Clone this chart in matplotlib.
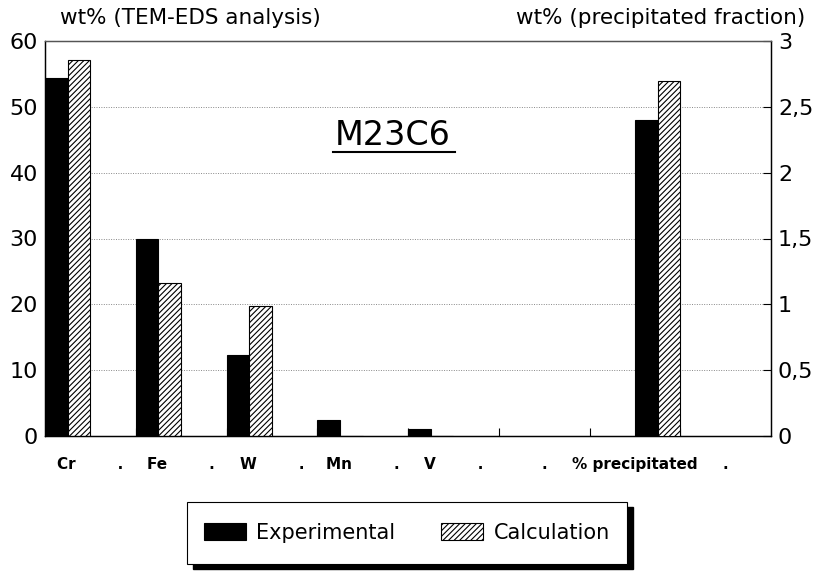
import matplotlib.pyplot as plt
from matplotlib.patches import Rectangle

plt.rcParams['font.family'] = ['DejaVu Sans']
plt.rcParams['hatch.linewidth'] = 0.8

# data
labels = ["Cr        .", "Fe        .", "W        .", "Mn        .", "V        .",
          ".", "% precipitated", "."]
elements = [0, 1, 2, 3, 4]           # category index of each element
exp_wt = [54.4, 29.9, 12.3, 2.4, 1.0]
calc_wt = [57.1, 23.2, 19.75, 0, 0]
prec_cat = [6]
prec_exp = [2.40]
prec_calc = [2.70]

fig = plt.figure(figsize=(8.16, 5.72), dpi=100)
ax = fig.add_axes([45/816, 1-436/572, 726/816, 395/572])
ax2 = ax.twinx()

w = 0.25
ax.bar([e for e in elements], exp_wt, width=w, align='edge', color='black',
       edgecolor='black', linewidth=0.8, label='Experimental', zorder=3)
ax.bar([e + w for e in elements], calc_wt, width=w, align='edge', color='white',
       edgecolor='black', hatch='//////', linewidth=0.8, label='Calculation', zorder=3)
ax2.bar([c + 0.5 for c in prec_cat], prec_exp, width=w, align='edge', color='black',
        edgecolor='black', linewidth=0.8, zorder=3)
ax2.bar([c + 0.5 + w for c in prec_cat], prec_calc, width=w, align='edge', color='white',
        edgecolor='black', hatch='//////', linewidth=0.8, zorder=3)

ax.set_xlim(0, 8)
ax.set_ylim(0, 60)
ax2.set_ylim(0, 3)
ax.set_yticks(range(0, 61, 10))
ax2.set_yticks([0, 0.5, 1, 1.5, 2, 2.5, 3])
ax2.set_yticklabels(["0", "0,5", "1", "1,5", "2", "2,5", "3"])
ax.grid(axis='y', linestyle=(0, (1, 1.5)), color='#888888', linewidth=0.7, zorder=0)

# category ticks (minor at boundaries, labels at centers)
ax.set_xticks([i + 0.5 for i in range(8)])
ax.set_xticklabels(labels, fontsize=11, fontweight='bold')
ax.tick_params(axis='x', length=0, pad=15)
ax.set_xticks(range(1, 8), minor=True)
ax.tick_params(axis='x', which='minor', direction='in', length=6, width=0.8)

ax.tick_params(axis='y', length=0, labelsize=16, pad=5)
ax2.tick_params(axis='y', direction='in', length=6, width=0.8, labelsize=16, pad=5)

for a in (ax, ax2):
    for s in a.spines.values():
        s.set_linewidth(0.9)
    a.spines['top'].set_color('#555555')

fig.text(60/816, 1-18/572, "wt% (TEM-EDS analysis)", fontsize=15.5, va='center', ha='left')
fig.text(805/816, 1-18/572, "wt% (precipitated fraction)", fontsize=15.5, va='center', ha='right')
ax.text(393/816, 1-136/572, "M23C6", transform=fig.transFigure, fontsize=24,
        ha='center', va='center', zorder=5)
fig.add_artist(plt.Line2D([333/816, 455/816], [1-152/572, 1-152/572], color='black', linewidth=1.5))

# legend box with solid shadow
fig.patches.append(Rectangle((193/816, 1-569/572), 440/816, 62/572, transform=fig.transFigure,
                             facecolor='black', edgecolor='black', zorder=1))
fig.patches.append(Rectangle((187/816, 1-564/572), 440/816, 62/572, transform=fig.transFigure,
                             facecolor='white', edgecolor='black', linewidth=0.8, zorder=2))
h, l = ax.get_legend_handles_labels()
leg = fig.legend(h, l, loc='center', bbox_to_anchor=(407/816, 1-533/572), ncol=2,
                 frameon=False, fontsize=15, handlelength=2.0, handleheight=0.9,
                 columnspacing=2.2, handletextpad=0.5)

fig.savefig("out.png", dpi=100)
